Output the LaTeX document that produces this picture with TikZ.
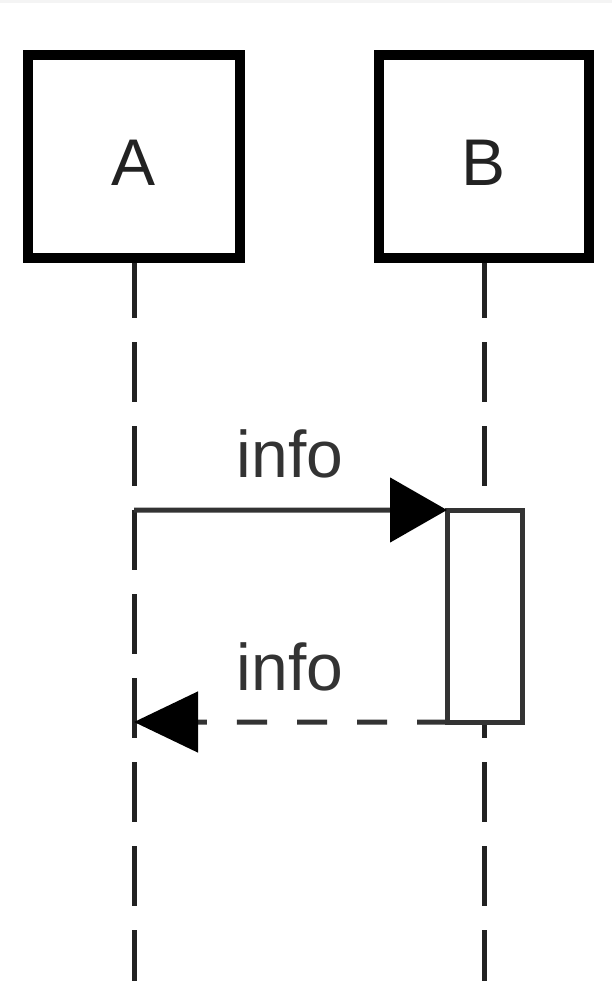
\documentclass[tikz,border=0pt]{standalone}
\usepackage{fontspec}
\setmainfont{Liberation Sans}
\usetikzlibrary{arrows.meta}
\definecolor{ink}{HTML}{222222}
\definecolor{msg}{HTML}{333333}
\definecolor{strip}{HTML}{F4F4F4}
\begin{document}
\begin{tikzpicture}[x=1bp,y=-1bp,
  actorbox/.style={draw=black,line width=10bp,fill=white,outer sep=0pt,inner sep=0pt,
    minimum width=212bp,minimum height=203bp},
  actlabel/.style={text=ink,font=\fontsize{66bp}{79bp}\selectfont,anchor=base,inner sep=0pt},
  lifeline/.style={draw=ink,line width=5bp,dash pattern=on 60bp off 24bp},
  actbar/.style={draw=msg,line width=5bp,fill=white,outer sep=0pt,inner sep=0pt,
    minimum width=75bp,minimum height=212bp},
  callmsg/.style={draw=msg,line width=5bp,-{Triangle[length=57bp,width=64bp,color=black]}},
  retmsg/.style={draw=msg,line width=5bp,dash pattern=on 30bp off 30bp,-{Triangle[length=64bp,width=60bp,color=black]}},
  msglabel/.style={text=msg,font=\fontsize{66bp}{79bp}\selectfont,anchor=base,inner sep=0pt}]
\useasboundingbox (0,0) rectangle (612,981);
\fill[strip] (0,0) rectangle (612,3);
% boxes
\node[actorbox] (A) at (134,156.5) {};
\node[actorbox,minimum width=210bp] (B) at (484,156.5) {};
% lifeline ends
\coordinate (Aend) at (134,981);
\coordinate (Bend) at (484,981);
\draw[lifeline] (A.south) -- (Aend);
\draw[lifeline] (B.south) -- (Bend);
% redraw boxes above lifelines
\node[actorbox] at (A) {};
\node[actorbox,minimum width=210bp] at (B) {};
\node[actlabel] (Alab) at (134,185) {A};
\node[actlabel] (Blab) at (484,185) {B};
% activation
\node[actbar] (act) at (484.5,616) {};
\coordinate (a1) at (134,510);
\coordinate (a2) at (134,722);
\draw[callmsg] (a1) -- (act.north west);
\draw[retmsg] (act.south west) -- (a2);
\draw[draw=msg,line width=5bp] (act.south west) -- (act.south east);
\node[msglabel] (m1) at (290,477) {info};
\node[msglabel] (m2) at (290,690) {info};
\end{tikzpicture}
\end{document}
